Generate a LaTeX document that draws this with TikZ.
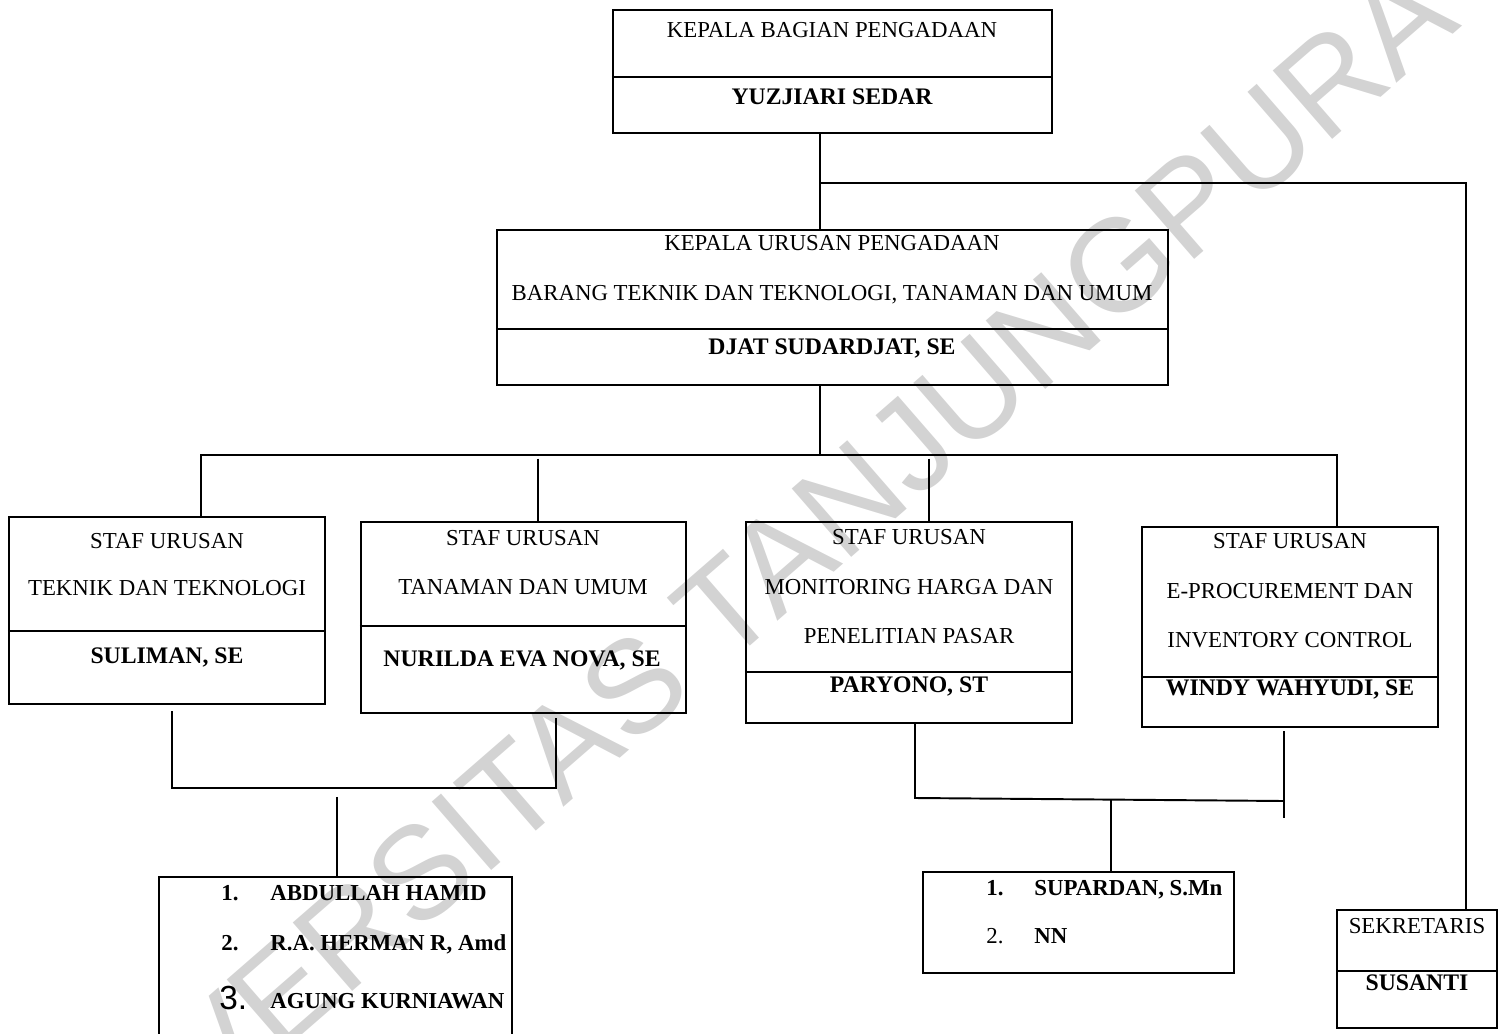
\documentclass[tikz,border=0pt]{standalone}
\usepackage{fontspec}
\setmainfont{Liberation Serif}
\newfontfamily\arialfont{Liberation Sans}
\usetikzlibrary{positioning}
\definecolor{tandaair}{HTML}{D3D3D3}

\begin{document}
\begin{tikzpicture}[x=0.02cm, y=-0.02cm,
    every node/.style={font=\fontsize{13}{15}\selectfont},
    kotak/.style={draw, line width=1.4pt, rectangle, inner sep=0pt},
    garis/.style={line width=1.1pt},
    sekat/.style={line width=1.2pt},
    tebal/.style={font=\fontsize{13.5}{15}\selectfont\bfseries},
    nomor/.style={anchor=base west, inner sep=0pt, font=\fontsize{13}{15}\selectfont\bfseries}]
    \useasboundingbox (0,0) rectangle (1504,1034);

    % tanda air
    \node[text=tandaair, rotate=41, font=\arialfont\fontsize{75}{80}\selectfont] (tanda) at (722,610) {UNIVERSITAS TANJUNGPURA};

    % Kepala bagian
    \node[kotak, minimum width=8.78cm, minimum height=2.46cm] (kb) at (832.5,71.5) {};
    \draw[sekat] (kb.west |- 0,77) -- (kb.east |- 0,77);
    \node (kbjab) at (832,30) {KEPALA BAGIAN PENGADAAN};
    \node[tebal] (kbnama) at (832,97) {YUZJIARI SEDAR};

    % Kepala urusan
    \node[kotak, minimum width=13.42cm, minimum height=3.1cm] (ku) at (832.5,307.5) {};
    \draw[sekat] (ku.west |- 0,329) -- (ku.east |- 0,329);
    \node (kujab) at (832,243) {KEPALA URUSAN PENGADAAN};
    \node (kubid) at (832,295) {BARANG TEKNIK DAN TEKNOLOGI, TANAMAN DAN UMUM};
    \node[tebal] (kunama) at (832,348) {DJAT SUDARDJAT, SE};

    % Staf urusan
    \node[kotak, minimum width=6.32cm, minimum height=3.74cm] (s1) at (167,610.5) {};
    \draw[sekat] (s1.west |- 0,631) -- (s1.east |- 0,631);
    \node (s1a) at (167,541) {STAF URUSAN};
    \node (s1b) at (167,588) {TEKNIK DAN TEKNOLOGI};
    \node[tebal] (s1n) at (167,657) {SULIMAN, SE};

    \node[kotak, minimum width=6.5cm, minimum height=3.82cm] (s2) at (523.5,617.5) {};
    \draw[sekat] (s2.west |- 0,626) -- (s2.east |- 0,626);
    \node (s2a) at (523,538) {STAF URUSAN};
    \node (s2b) at (523,587) {TANAMAN DAN UMUM};
    \node[tebal] (s2n) at (522,660) {NURILDA EVA NOVA, SE};

    \node[kotak, minimum width=6.52cm, minimum height=4.02cm] (s3) at (909,622.5) {};
    \draw[sekat] (s3.west |- 0,672) -- (s3.east |- 0,672);
    \node (s3a) at (909,537) {STAF URUSAN};
    \node (s3b) at (909,587) {MONITORING HARGA DAN};
    \node (s3c) at (909,636) {PENELITIAN PASAR};
    \node[tebal] (s3n) at (909,686) {PARYONO, ST};

    \node[kotak, minimum width=5.92cm, minimum height=4cm] (s4) at (1290,627) {};
    \draw[sekat] (s4.west |- 0,677) -- (s4.east |- 0,677);
    \node (s4a) at (1290,541) {STAF URUSAN};
    \node (s4b) at (1290,591) {E-PROCUREMENT DAN};
    \node (s4c) at (1290,640) {INVENTORY CONTROL};
    \node[tebal] (s4n) at (1290,689) {WINDY WAHYUDI, SE};

    % Anggota
    \node[kotak, minimum width=7.06cm, minimum height=3.6cm] (a1) at (335.5,967) {};
    \node[nomor] (a1n1) at (221,900) {1.};
    \node[nomor] (a1t1) at (270,900) {ABDULLAH HAMID};
    \node[nomor] (a1n2) at (221,950) {2.};
    \node[nomor] (a1t2) at (270,950) {R.A. HERMAN R, Amd};
    \node[anchor=base west, inner sep=0pt, font=\arialfont\fontsize{19}{20}\selectfont] (a1n3) at (219,1009) {3.};
    \node[nomor] (a1t3) at (270,1008) {AGUNG KURNIAWAN};

    \node[kotak, minimum width=6.22cm, minimum height=2.02cm] (a2) at (1078.5,922.5) {};
    \node[nomor] (a2n1) at (986,895) {1.};
    \node[nomor] (a2t1) at (1034,895) {SUPARDAN, S.Mn};
    \node[anchor=base west, inner sep=0pt] (a2n2) at (986,943) {2.};
    \node[nomor] (a2t2) at (1034,943) {NN};

    % Sekretaris
    \node[kotak, minimum width=3.2cm, minimum height=2.36cm] (sek) at (1417,969) {};
    \draw[sekat] (sek.west |- 0,971) -- (sek.east |- 0,971);
    \node (sekjab) at (1417,926) {SEKRETARIS};
    \node[tebal] (seknama) at (1417,983) {SUSANTI};

    % Garis hubung
    \coordinate (poros) at (820,183);
    \coordinate (bus) at (820,455);
    \draw[garis] (kb.south -| poros) -- (ku.north -| poros);
    \draw[garis] (poros) -| (sek.north -| 1466,0);
    \draw[garis] (ku.south -| bus) -- (bus);
    \draw[garis] (s1.north -| 201,0) |- (bus) -| (s4.north -| 1337,0);
    \draw[garis] ([yshift=-2pt]bus -| 538,0) -- (s2.north -| 538,0);
    \draw[garis] ([yshift=-2pt]bus -| 929,0) -- (s3.north -| 929,0);

    \coordinate (kiri1) at (172,711);
    \coordinate (kiri2) at (556,718);
    \coordinate (gabkiri) at (337,788);
    \draw[garis] (kiri1) |- (gabkiri) -| (kiri2);
    \draw[garis] ([yshift=-5pt]gabkiri) -- (a1.north -| gabkiri);

    \coordinate (kanan1) at (915,722);
    \coordinate (kanan2) at (1284,731);
    \coordinate (gabkanan) at (1111,799);
    \draw[garis] (kanan1) -- (915,798) -- (1284,801);
    \draw[garis] (kanan2) -- (1284,818);
    \draw[garis] (gabkanan) -- (a2.north -| gabkanan);
\end{tikzpicture}
\end{document}
